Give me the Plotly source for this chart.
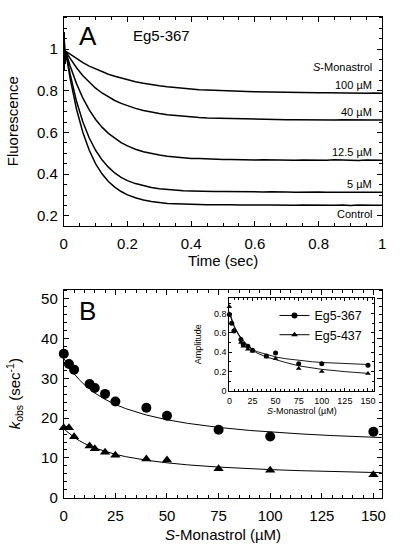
import plotly.graph_objects as go

# ---------------- Panel A: fluorescence transients (Eg5-367) ----------------
TIME = [0, 0.001, 0.003, 0.006, 0.02, 0.04, 0.06, 0.08, 0.10, 0.12, 0.14, 0.16, 0.18, 0.20,
        0.225, 0.25, 0.275, 0.30, 0.325, 0.35, 0.375, 0.40, 0.425, 0.45, 0.475, 0.50,
        0.525, 0.55, 0.575, 0.60, 0.625, 0.65, 0.675, 0.70, 0.725, 0.75, 0.775, 0.80,
        0.825, 0.85, 0.875, 0.90, 0.925, 0.95, 0.975, 1.00]

F_CONTROL = [0.90, 1.08, 0.93, 0.99, 0.860, 0.712, 0.600, 0.515, 0.450, 0.402, 0.365, 0.338, 0.317, 0.301,
             0.287, 0.276, 0.269, 0.264, 0.260, 0.258, 0.256, 0.255, 0.254, 0.253, 0.254, 0.252,
             0.253, 0.252, 0.251, 0.253, 0.252, 0.252, 0.251, 0.253, 0.251, 0.252, 0.251, 0.252,
             0.251, 0.251, 0.252, 0.250, 0.252, 0.250, 0.251, 0.251]
F_5UM = [0.90, 1.08, 0.93, 0.99, 0.880, 0.750, 0.651, 0.574, 0.515, 0.469, 0.434, 0.406, 0.385, 0.369,
         0.355, 0.344, 0.336, 0.330, 0.326, 0.323, 0.321, 0.320, 0.318, 0.318, 0.317, 0.317,
         0.316, 0.317, 0.315, 0.316, 0.315, 0.316, 0.314, 0.315, 0.314, 0.315, 0.314, 0.315,
         0.313, 0.315, 0.314, 0.314, 0.313, 0.315, 0.313, 0.314]
F_12_5UM = [0.90, 1.08, 0.93, 0.99, 0.920, 0.835, 0.765, 0.709, 0.663, 0.626, 0.596, 0.572, 0.552, 0.536,
            0.520, 0.508, 0.499, 0.492, 0.486, 0.482, 0.479, 0.476, 0.475, 0.473, 0.472, 0.471,
            0.471, 0.469, 0.470, 0.468, 0.469, 0.468, 0.467, 0.469, 0.467, 0.468, 0.467, 0.468,
            0.467, 0.469, 0.467, 0.468, 0.466, 0.468, 0.467, 0.467]
F_40UM = [0.90, 1.08, 0.93, 0.99, 0.956, 0.911, 0.873, 0.841, 0.813, 0.790, 0.771, 0.754, 0.740, 0.728,
          0.716, 0.706, 0.697, 0.691, 0.685, 0.681, 0.677, 0.675, 0.672, 0.670, 0.669, 0.667,
          0.666, 0.665, 0.665, 0.663, 0.664, 0.662, 0.663, 0.662, 0.662, 0.661, 0.662, 0.661,
          0.661, 0.660, 0.661, 0.660, 0.661, 0.659, 0.660, 0.660]
F_100UM = [0.90, 1.08, 0.93, 0.99, 0.976, 0.955, 0.936, 0.919, 0.905, 0.892, 0.880, 0.870, 0.861, 0.853,
           0.844, 0.837, 0.830, 0.825, 0.820, 0.816, 0.812, 0.809, 0.806, 0.804, 0.802, 0.800,
           0.799, 0.798, 0.797, 0.796, 0.795, 0.794, 0.794, 0.793, 0.793, 0.792, 0.792, 0.791,
           0.791, 0.790, 0.791, 0.790, 0.790, 0.789, 0.790, 0.789]

A_LABELS = ["<i>S</i>-Monastrol", "100 \u00b5M", "40 \u00b5M", "12.5 \u00b5M", "5 \u00b5M", "Control"]
A_LABEL_Y = [0.913, 0.830, 0.700, 0.506, 0.353, 0.208]

# ---------------- Panel B: kobs vs S-Monastrol ----------------
CONC = [0, 2.5, 5, 12.5, 15, 20, 25, 40, 50, 75, 100, 150]
KOBS_367 = [36.2, 33.6, 32.2, 28.6, 27.6, 26.1, 24.2, 22.6, 20.6, 17.1, 15.4, 16.6]
KOBS_437 = [17.6, 17.6, 15.3, 13.0, 12.3, 11.4, 10.7, 9.7, 9.5, 7.3, 6.9, 5.8]

FIT_CONC = [0, 2.5, 5, 7.5, 10, 15, 20, 25, 30, 40, 50, 60, 75, 90, 100, 115, 130, 150, 154]
FIT_367 = [35.0, 32.9, 31.15, 29.67, 28.4, 26.34, 24.73, 23.45, 22.4, 20.79, 19.6, 18.7,
           17.68, 16.91, 16.52, 16.03, 15.62, 15.2, 15.13]
FIT_437 = [17.3, 16.14, 15.17, 14.35, 13.64, 12.5, 11.61, 10.9, 10.32, 9.42, 8.77, 8.26,
           7.7, 7.28, 7.06, 6.79, 6.57, 6.33, 6.29]

# ---------------- Inset: amplitude ----------------
AMP_367 = [0.79, 0.70, 0.62, 0.53, 0.48, 0.46, 0.42, 0.36, 0.39, 0.28, 0.28, 0.265]
AMP_437 = [0.87, 0.70, 0.63, 0.50, 0.46, 0.43, 0.41, 0.35, 0.335, 0.23, 0.20, 0.178]
AMP_FIT_CONC = [0, 2.5, 5, 10, 15, 20, 25, 30, 40, 50, 60, 75, 90, 100, 125, 150]
AMP_FIT_367 = [0.80, 0.73, 0.67, 0.585, 0.52, 0.47, 0.43, 0.405, 0.375, 0.350, 0.333, 0.313,
               0.300, 0.293, 0.280, 0.272]
AMP_FIT_437 = [0.82, 0.74, 0.67, 0.575, 0.51, 0.46, 0.42, 0.39, 0.35, 0.320, 0.295, 0.258,
               0.236, 0.222, 0.198, 0.180]

FONT = "Liberation Sans, Arial, Helvetica, sans-serif"
BLACK = "black"

fig = go.Figure()

for ys in [F_CONTROL, F_5UM, F_12_5UM, F_40UM, F_100UM]:
    fig.add_trace(go.Scatter(x=TIME, y=ys, mode="lines", line=dict(color=BLACK, width=1.5),
                             xaxis="x", yaxis="y", showlegend=False, hoverinfo="skip"))

for fy in [FIT_367, FIT_437]:
    fig.add_trace(go.Scatter(x=FIT_CONC, y=fy, mode="lines", line=dict(color=BLACK, width=1),
                             xaxis="x2", yaxis="y2", showlegend=False))
fig.add_trace(go.Scatter(x=CONC, y=KOBS_367, mode="markers", cliponaxis=False,
                         marker=dict(symbol="circle", size=10, color=BLACK),
                         xaxis="x2", yaxis="y2", showlegend=False))
fig.add_trace(go.Scatter(x=CONC, y=KOBS_437, mode="markers", cliponaxis=False,
                         marker=dict(symbol="triangle-up", size=9, color=BLACK),
                         xaxis="x2", yaxis="y2", showlegend=False))

for fy in [AMP_FIT_367, AMP_FIT_437]:
    fig.add_trace(go.Scatter(x=AMP_FIT_CONC, y=fy, mode="lines", line=dict(color=BLACK, width=0.9),
                             xaxis="x3", yaxis="y3", showlegend=False))
fig.add_trace(go.Scatter(x=CONC, y=AMP_367, mode="markers", cliponaxis=False,
                         marker=dict(symbol="circle", size=5, color=BLACK),
                         xaxis="x3", yaxis="y3", showlegend=False))
fig.add_trace(go.Scatter(x=CONC, y=AMP_437, mode="markers", cliponaxis=False,
                         marker=dict(symbol="triangle-up", size=5, color=BLACK),
                         xaxis="x3", yaxis="y3", showlegend=False))
# legend-only entries
fig.add_trace(go.Scatter(x=[None], y=[None], mode="lines+markers", name="Eg5-367",
                         line=dict(color=BLACK, width=1), marker=dict(symbol="circle", size=6, color=BLACK),
                         xaxis="x3", yaxis="y3"))
fig.add_trace(go.Scatter(x=[None], y=[None], mode="lines+markers", name="Eg5-437",
                         line=dict(color=BLACK, width=1), marker=dict(symbol="triangle-up", size=6, color=BLACK),
                         xaxis="x3", yaxis="y3"))


def ax(**kw):
    base = dict(showline=True, linecolor=BLACK, linewidth=1, mirror="ticks", ticks="inside",
                ticklen=5, tickwidth=1, tickcolor=BLACK, showgrid=False, zeroline=False,
                tickfont=dict(size=15, color=BLACK, family=FONT))
    base.update(kw)
    return base


def minor(d, l=3):
    return dict(dtick=d, ticks="inside", ticklen=l, tickcolor=BLACK, showgrid=False)


annotations = [
    dict(text="A", x=0.04, y=0.91, xref="x domain", yref="y domain", xanchor="left", yanchor="middle",
         showarrow=False, font=dict(size=26, color=BLACK, family=FONT)),
    dict(text="Eg5-367", x=0.21, y=0.91, xref="x domain", yref="y domain", xanchor="left", yanchor="middle",
         showarrow=False, font=dict(size=15, color=BLACK, family=FONT)),
    dict(text="B", x=0.04, y=0.9, xref="x2 domain", yref="y2 domain", xanchor="left", yanchor="middle",
         showarrow=False, font=dict(size=26, color=BLACK, family=FONT)),
]
for lab, yy in zip(A_LABELS, A_LABEL_Y):
    annotations.append(dict(text=lab, x=0.975, y=yy, xref="x", yref="y", xanchor="right", yanchor="middle",
                            showarrow=False, font=dict(size=11, color=BLACK, family=FONT)))

fig.update_layout(
    width=400, height=553,
    margin=dict(l=0, r=0, t=0, b=0),
    paper_bgcolor="white", plot_bgcolor="white",
    font=dict(family=FONT, color=BLACK),
    xaxis=ax(domain=[0.1525, 0.965], range=[0, 1], dtick=0.2, tick0=0, anchor="y",
             minor=minor(0.05), ticklabelstandoff=4,
             title=dict(text="Time (sec)", font=dict(size=15), standoff=4)),
    yaxis=ax(domain=[0.5859, 0.9693], range=[0.153, 1.156], dtick=0.2, tick0=0, anchor="x",
             minor=minor(0.05), ticklabelstandoff=2,
             title=dict(text="Fluorescence", font=dict(size=15), standoff=14)),
    xaxis2=ax(domain=[0.1525, 0.965], range=[0, 154.3], dtick=25, tick0=0, anchor="y2",
              minor=minor(5), ticklabelstandoff=4,
              title=dict(text="<i>S</i>-Monastrol (\u00b5M)", font=dict(size=15), standoff=6)),
    yaxis2=ax(domain=[0.0868, 0.4684], range=[0, 52.3], dtick=10, tick0=0, anchor="x2",
              minor=minor(2), ticklabelstandoff=2,
              title=dict(text="<i>k</i><sub>obs</sub> (sec<sup>-1</sup>)", font=dict(size=15), standoff=16)),
    xaxis3=ax(domain=[0.575, 0.945], range=[0, 157], dtick=25, tick0=0, anchor="y3",
              ticklen=3, minor=minor(5, 2), tickfont=dict(size=9, color=BLACK, family=FONT),
              ticklabelstandoff=1,
              title=dict(text="<i>S</i>-Monastrol (\u00b5M)", font=dict(size=9), standoff=1)),
    yaxis3=ax(domain=[0.283, 0.454], range=[0, 0.965], dtick=0.2, tick0=0, anchor="x3",
              ticklen=3, minor=minor(0.1, 2), tickfont=dict(size=9, color=BLACK, family=FONT),
              title=dict(text="Amplitude", font=dict(size=9), standoff=10)),
    legend=dict(x=0.69, y=0.448, xanchor="left", yanchor="top", bgcolor="rgba(0,0,0,0)",
                font=dict(size=12.5, color=BLACK, family=FONT), itemwidth=30,
                tracegroupgap=0),
    annotations=annotations,
)

fig.write_html("out.html", config={"displayModeBar": False},
               post_script="document.body.style.margin='0';document.body.style.padding='0';")
